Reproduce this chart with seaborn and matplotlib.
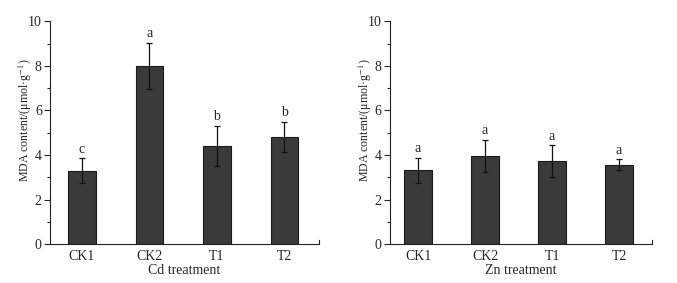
import numpy as np
import matplotlib
matplotlib.use("Agg")
import matplotlib.pyplot as plt
import seaborn as sns
from matplotlib.ticker import MultipleLocator

treatments = ["CK1", "CK2", "T1", "T2"]

cd_mean = [3.30, 8.00, 4.40, 4.80]
cd_err = [0.55, 1.04, 0.90, 0.68]
cd_letters = ["c", "a", "b", "b"]

zn_mean = [3.32, 3.95, 3.72, 3.56]
zn_err = [0.56, 0.72, 0.72, 0.25]
zn_letters = ["a", "a", "a", "a"]

sns.set_theme(style="ticks")
plt.rcParams["font.family"] = ["Liberation Serif", "DejaVu Serif"]
plt.rcParams["mathtext.fontset"] = "stix"

fig = plt.figure(figsize=(6.77, 2.83), dpi=100)
ax1 = fig.add_axes([0.074, 0.137, 0.397, 0.788])
ax2 = fig.add_axes([0.576, 0.137, 0.387, 0.788])

panels = [
    (ax1, cd_mean, cd_err, cd_letters, "Cd treatment", (-0.47, 3.51)),
    (ax2, zn_mean, zn_err, zn_letters, "Zn treatment", (-0.42, 3.49)),
]

for ax, means, errs, letters, xlabel, xlim in panels:
    sns.barplot(x=treatments, y=means, color="#3a3a3a", width=0.41,
                edgecolor="#1a1a1a", linewidth=0.8, saturation=1,
                errorbar=None, ax=ax)
    ax.errorbar(np.arange(len(treatments)), means, yerr=errs, fmt="none",
                ecolor="#111111", elinewidth=0.9, capsize=2.2, capthick=0.9)
    for i, (m, e, lab) in enumerate(zip(means, errs, letters)):
        ax.text(i, m + e + 0.12, lab, ha="center", va="bottom", fontsize=10)

    ax.set_xlim(*xlim)
    ax.set_ylim(0, 10)
    ax.yaxis.set_major_locator(MultipleLocator(2))
    ax.yaxis.set_minor_locator(MultipleLocator(1))
    ax.tick_params(axis="y", which="major", length=4, width=0.8,
                   labelsize=10, pad=2, direction="out")
    ax.tick_params(axis="y", which="minor", length=2, width=0.8)
    ax.tick_params(axis="x", length=0, labelsize=10, pad=4)
    ax.set_xlabel(xlabel, fontsize=10, labelpad=1)
    ax.set_ylabel("MDA content/(μmol·g$^{-1}$)", fontsize=8.6)
    ax.yaxis.set_label_coords(-0.061, 0.557)

    for side in ["left", "bottom", "right"]:
        ax.spines[side].set_color("#222222")
        ax.spines[side].set_linewidth(0.8)
    ax.spines["top"].set_visible(False)
    ax.spines["right"].set_bounds(0, 0.2)

fig.savefig("out.png", dpi=100, facecolor="white")
